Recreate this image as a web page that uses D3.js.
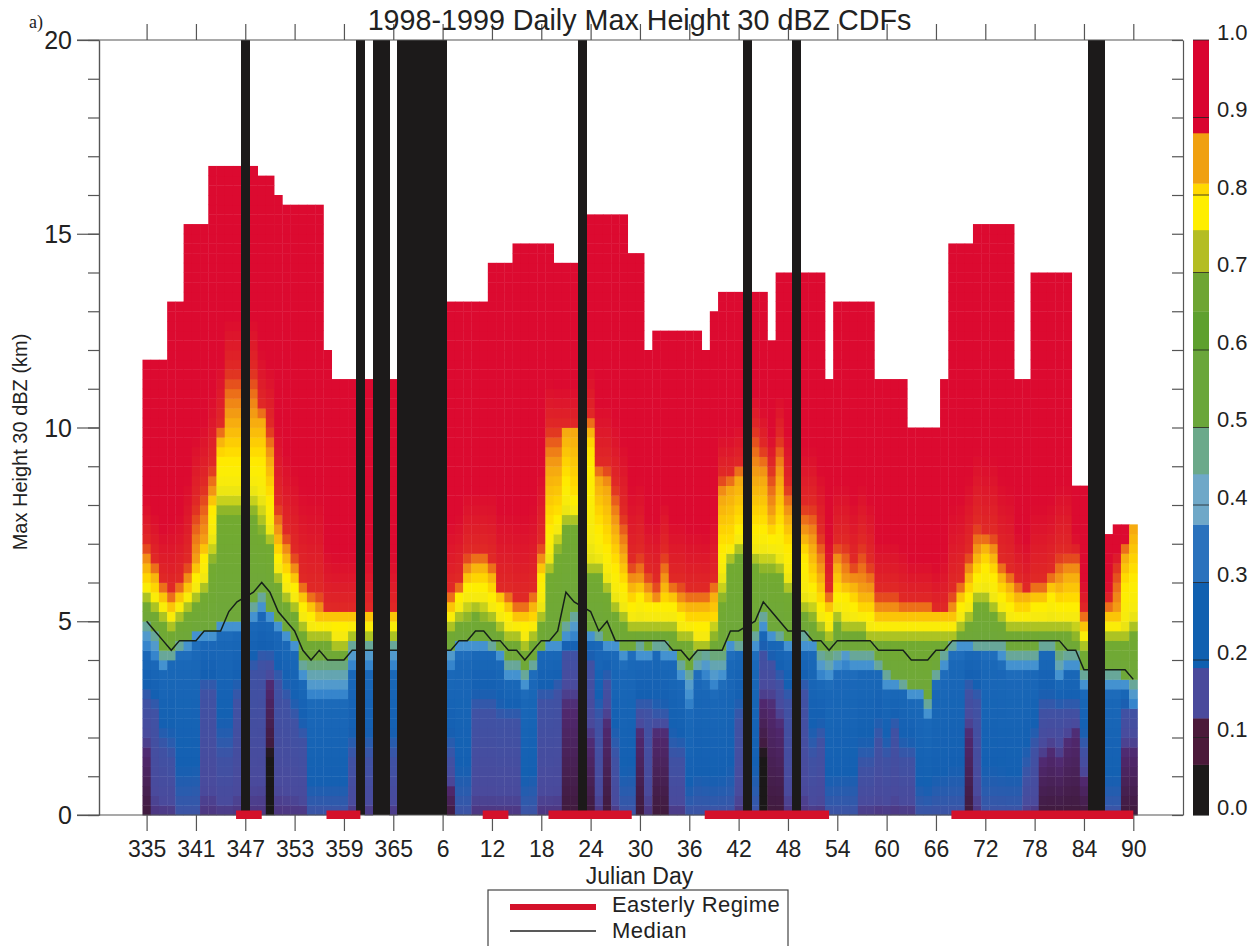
<!DOCTYPE html>
<html>

<head>
    <meta charset="utf-8">
    <style>
        body {
            margin: 0;
            background: white;
        }

        svg {
            display: block;
            font-family: 'Liberation Sans', Arial, sans-serif;
            fill: #222;
        }

        .heat {
            filter: blur(0.5px);
        }

        .axis path,
        .axis line {
            stroke: #555;
            stroke-width: 1.2;
        }
    </style>
</head>

<body>
    <svg width="1257" height="946"></svg>

    <script src="https://d3js.org/d3.v7.min.js"></script>

    <script>
        const _ = null

        // julian days, dec 1 1998 to mar 31 1999
        let days = d3.range(335, 366).concat(d3.range(1, 91))
        let dayLabels = [335, 341, 347, 353, 359, 365, 6, 12, 18, 24, 30, 36, 42, 48, 54, 60, 66, 72, 78, 84, 90]

        // height (km) where the daily CDF reaches each level, read per column
        let topHeight = [
            11.75, 11.75, 11.75, 13.25, 13.25, 15.25, 15.25, 15.25, 16.75, 16.75,
            16.75, 16.75, _, 16.75, 16.5, 16.5, 16, 15.75, 15.75, 15.75,
            15.75, 15.75, 12, 11.25, 11.25, 11.25, _, 11.25, _, _,
            11.25, _, _, _, _, _, _, 13.25, 13.25, 13.25,
            13.25, 13.25, 14.25, 14.25, 14.25, 14.75, 14.75, 14.75, 14.75, 14.75,
            14.25, 14.25, 14.25, _, 15.5, 15.5, 15.5, 15.5, 15.5, 14.5,
            14.5, 12, 12.5, 12.5, 12.5, 12.5, 12.5, 12.5, 12, 13,
            13.5, 13.5, 13.5, _, 13.5, 13.5, 12.25, 14, 14, _,
            14, 14, 14, 11.25, 13.25, 13.25, 13.25, 13.25, 13.25, 11.25,
            11.25, 11.25, 11.25, 10, 10, 10, 10, 11.25, 14.75, 14.75,
            14.75, 15.25, 15.25, 15.25, 15.25, 15.25, 11.25, 11.25, 14, 14,
            14, 14, 14, 8.5, 8.5, _, _, 7.25, 7.5, 7.5,
            7.5]
        let cdf92 = [
            7, 6.5, 6, 5.75, 6, 6.5, 8, 8.5, 9, 10,
            11.5, 11.5, _, 11.5, 10.5, 10, 8, 7.25, 6.75, 6,
            5.75, 5.75, 5.25, 5.25, 5.25, 5.25, _, 5.25, _, _,
            5.25, _, _, _, _, _, _, 5.75, 6, 6.75,
            6.75, 6.75, 6.5, 5.75, 5.75, 5.5, 5.5, 5.75, 7, 10,
            10, 10, 10, _, 10.25, 9, 9, 8.5, 7.75, 6.5,
            6.75, 6.25, 6, 6.75, 6, 6, 5.75, 5.75, 5.75, 6,
            8.75, 8.75, 9, _, 10, 9.5, 9, 9.75, 8.5, _,
            8, 8, 7.25, 5.75, 7, 7, 6.5, 7, 6.5, 5.75,
            5.75, 5.75, 5.5, 5.5, 5.5, 5.5, 5.25, 5.25, 5.75, 6,
            6.75, 7.5, 7.25, 7.25, 6.5, 6.25, 6, 5.75, 6, 6,
            6.25, 6.75, 6.75, 6.75, 5.25, _, _, 5.5, 6.5, 7,
            7.5]
        let cdf85 = [
            6.5, 6.25, 5.75, 5.5, 5.75, 6, 6.5, 7, 8.25, 9.75,
            10.25, 10.25, _, 10.25, 10.25, 9.25, 7.25, 6.75, 6.25, 5.75,
            5.5, 5.25, 5.25, 5.25, 5.25, 5.25, _, 5.25, _, _,
            5.25, _, _, _, _, _, _, 5.5, 5.75, 6.25,
            6.5, 6.5, 6.25, 5.75, 5.5, 5.25, 5.25, 5.5, 6.5, 9,
            9, 10, 10, _, 10, 8.75, 8.5, 7.5, 6.75, 6,
            6, 5.75, 5.5, 6, 5.75, 5.5, 5.5, 5.5, 5.5, 5.75,
            8.25, 8.5, 8.75, _, 8.75, 8.75, 7.75, 8.75, 7.75, _,
            7.25, 7, 6.25, 5.5, 6.5, 6, 6, 5.75, 5.75, 5.25,
            5.25, 5.25, 5.25, 5.25, 5.25, 5.25, 5.25, 5.25, 5.25, 5.75,
            6.25, 6.75, 7, 6.75, 6.25, 6, 5.75, 5.75, 5.75, 5.75,
            6, 6, 6.25, 6.25, 5, _, _, 5.25, 5.25, 6.75,
            7.5]
        let cdf80 = [
            6, 5.75, 5.5, 5.25, 5.5, 5.75, 6.25, 6.75, 8, 9.25,
            9.25, 9.25, _, 9.25, 9.25, 8.25, 6.75, 6.25, 6, 5.5,
            5.25, 5, 5, 5, 5, 5, _, 5, _, _,
            5, _, _, _, _, _, _, 5.25, 5.75, 6,
            6, 6, 5.75, 5.5, 5.25, 5, 5, 5, 6.25, 7.5,
            7.75, 8.75, 8.25, _, 9.5, 7.5, 7, 6.5, 6, 5.5,
            5.75, 5.5, 5.5, 5.5, 5.5, 5.25, 5, 5, 5, 5,
            7, 7, 7.5, _, 7.5, 7.5, 7.25, 7.5, 7, _,
            6.75, 6, 5.5, 5.25, 5.75, 5.75, 5.5, 5.25, 5.25, 5,
            5, 5, 5, 5, 5, 5, 5, 5, 5, 5.5,
            5.75, 6.25, 6.5, 6.25, 5.75, 5.5, 5.25, 5.25, 5.5, 5.5,
            5.75, 5.5, 5.5, 5.5, 4.75, _, _, 5, 5, 6,
            6.25]
        let cdf75 = [
            5.75, 5.5, 5.25, 5, 5.25, 5.5, 5.75, 6, 7, 8.25,
            8.25, 8.25, _, 8.25, 8, 7.25, 6.25, 5.75, 5.5, 5,
            4.75, 4.75, 4.75, 4.5, 4.5, 4.75, _, 4.75, _, _,
            4.75, _, _, _, _, _, _, 5, 5.25, 5.5,
            5.5, 5.5, 5.25, 5, 4.75, 4.75, 4.5, 4.75, 5.25, 6.5,
            7.25, 7.75, 7.75, _, 6.5, 6.5, 6, 5.5, 5.25, 5,
            5, 5, 5, 5, 5, 4.75, 4.75, 4.5, 4.5, 5,
            6, 6.75, 7, _, 6.75, 6.75, 6.75, 6.5, 6, _,
            5.5, 5.5, 5, 4.75, 5.25, 5, 5, 5, 4.75, 4.75,
            4.75, 4.75, 4.75, 4.75, 4.75, 4.75, 4.75, 4.75, 4.75, 5,
            5.25, 5.75, 5.75, 5.5, 5.25, 5, 5, 5, 5, 5,
            5, 5, 5, 5, 4.5, _, _, 4.75, 4.75, 4.75,
            5]
        let cdf70 = [
            5.5, 5.25, 5, 4.75, 5, 5.25, 5.5, 5.75, 6.5, 7.75,
            7.75, 7.75, _, 7.75, 7.25, 7, 6, 5.5, 5.25, 4.75,
            4.5, 4.5, 4.5, 4.25, 4.25, 4.5, _, 4.5, _, _,
            4.5, _, _, _, _, _, _, 4.75, 5, 5,
            5.25, 5, 5, 4.75, 4.5, 4.5, 4.25, 4.5, 5, 6.25,
            6.75, 7.5, 7.5, _, 6.25, 6.25, 5.75, 5.25, 5, 4.75,
            4.75, 4.75, 4.75, 4.75, 4.75, 4.5, 4.5, 4.25, 4.25, 4.5,
            5.5, 6.5, 6.75, _, 6.5, 6.25, 6.25, 6.25, 5.75, _,
            5.25, 5, 4.75, 4.5, 5, 4.75, 4.75, 4.75, 4.5, 4.5,
            4.5, 4.5, 4.5, 4.5, 4.5, 4.5, 4.5, 4.5, 4.5, 4.75,
            5, 5.5, 5.5, 5.25, 5, 4.75, 4.75, 4.75, 4.75, 4.75,
            4.75, 4.75, 4.75, 4.5, 4.25, _, _, 4.5, 4.5, 4.5,
            4.75]
        let cdf45 = [
            5, 4.75, 4.25, 4.25, 4.5, 4.5, 4.75, 4.75, 4.75, 5,
            5, 5, _, 5.5, 5.75, 5.25, 5, 4.75, 4.5, 4,
            4, 4, 4, 4, 4, 4.5, _, 4.5, _, _,
            4.5, _, _, _, _, _, _, 4.25, 4.5, 4.5,
            4.5, 4.5, 4.5, 4.25, 4, 4, 3.75, 4, 4.25, 4.5,
            4.5, 5, 5.25, _, 4.75, 4.75, 4.5, 4.5, 4.25, 4.25,
            4.5, 4.25, 4.5, 4.5, 4.25, 4, 3.75, 4.25, 4.25, 4.25,
            4.25, 4.5, 4.5, _, 4.75, 5.25, 4.75, 4.75, 4.5, _,
            4.75, 4.5, 4.25, 4.25, 4.25, 4.25, 4.25, 4.25, 4.25, 4,
            3.75, 3.5, 3.5, 3.25, 3.25, 3, 3.75, 4.25, 4.5, 4.5,
            4.5, 4.5, 4.5, 4.5, 4.5, 4.25, 4.25, 4.25, 4.25, 4.5,
            4.5, 4.25, 4.25, 4.25, 3.75, _, _, 3.75, 3.75, 3.5,
            3.5]
        let cdf40 = [
            4.75, 4.5, 4, 4, 4.25, 4.5, 4.75, 4.75, 4.75, 5,
            5, 5, _, 5.25, 5.5, 5.25, 5, 4.75, 4.5, 3.75,
            3.5, 3.5, 3.5, 3.5, 3.5, 4.25, _, 4.25, _, _,
            4.25, _, _, _, _, _, _, 4.25, 4.5, 4.5,
            4.5, 4.5, 4.25, 4.25, 3.75, 3.75, 3.5, 3.75, 4.25, 4.5,
            4.5, 4.75, 5, _, 4.75, 4.5, 4.5, 4.5, 4.25, 4.25,
            4.25, 4.25, 4.25, 4.25, 4.25, 3.75, 3.5, 3.75, 4, 3.75,
            3.75, 4.5, 4.25, _, 4.5, 5, 4.75, 4.5, 4.5, _,
            4.5, 4.5, 4, 3.75, 4, 4.25, 4, 4, 4, 3.75,
            3.5, 3.5, 3.25, 3.25, 3.25, 2.75, 3.5, 4, 4.25, 4.5,
            4.5, 4.25, 4.25, 4.25, 4.25, 4, 4, 4, 4, 4.25,
            4.25, 3.75, 4, 4, 3.5, _, _, 3.5, 3.5, 3.5,
            3.25]
        let cdf35 = [
            4.25, 4, 3.75, 4, 4.25, 4.25, 4.5, 4.5, 4.5, 4.75,
            4.75, 4.75, _, 5, 5.25, 5, 4.75, 4.5, 4.25, 3.5,
            3, 3, 3, 3, 3, 3.75, _, 3.75, _, _,
            3.75, _, _, _, _, _, _, 3.75, 4.25, 4.25,
            4.25, 4.25, 4.25, 4, 3.5, 3.5, 3.25, 3.75, 4.25, 4.25,
            4.25, 4.5, 4.5, _, 4.5, 4.5, 4.25, 4.25, 4, 4.25,
            4, 4, 4.25, 4, 4, 3.5, 2.75, 3.75, 3.5, 3.25,
            3.5, 4.25, 4.25, _, 4.25, 4.75, 4.5, 4.5, 4.25, _,
            4.25, 4.25, 3.5, 3.5, 3.75, 3.75, 3.75, 3.75, 3.75, 3.75,
            3.25, 3.25, 3.25, 3, 3, 2.5, 3.5, 3.75, 4.25, 4.25,
            4.25, 4.25, 4.25, 4.25, 4, 3.75, 3.75, 3.75, 3.75, 4.25,
            4.25, 3.5, 3.75, 3.75, 3.25, _, _, 3.25, 3.25, 3.25,
            2.75]
        let cdf15 = [
            3, 2.75, 1.75, 1.5, 0, 0, 0, 3.25, 3.25, 1.5,
            1.5, 3, _, 3.75, 4, 4, 3.5, 3, 2.5, 2,
            0, 0, 0, 0, 0, 1.5, _, 1.5, _, _,
            1.5, _, _, _, _, _, _, 1.5, 0, 0,
            2.75, 2.75, 2.75, 2.5, 2.5, 2.5, 0, 0, 3, 3,
            3.25, 4.25, 4.25, _, 4, 2.5, 3.5, 1.5, 0, 0,
            2.75, 2.75, 2.5, 2.5, 1.5, 1.5, 0, 0, 0, 0,
            0, 0, 2.5, _, 0, 4.25, 4, 3.5, 3, _,
            3.25, 1.5, 2, 0, 0, 0, 0, 1.25, 1.25, 2,
            1.5, 2.25, 1.5, 1.5, 0, 0, 0, 0, 0, 0,
            3.25, 3, 0, 0, 0, 0, 0, 1, 1.75, 2.75,
            2.75, 2.75, 2.75, 2.75, 1.75, _, _, 0, 0, 2.75,
            2.75]
        let cdf10 = [
            1.75, 0, 0, 0, 0, 0, 0, 0, 0, 0,
            0, 0, _, 0, 0, 3.5, 0, 0, 0, 0,
            0, 0, 0, 0, 0, 0, _, 0, _, _,
            0, _, _, _, _, _, _, 0.75, 0, 0,
            0, 0, 0, 0, 0, 0, 0, 0, 0, 0,
            0, 3, 3, _, 2, 0, 2.5, 0, 0, 0,
            2.25, 0, 2.25, 2.25, 0, 0, 0, 0, 0, 0,
            0, 0, 0, _, 0, 3, 3, 2.5, 0, _,
            0, 0, 0, 0, 0, 0, 0, 0, 0, 0,
            0, 0, 0, 0, 0, 0, 0, 0, 0, 0,
            2.25, 0, 0, 0, 0, 0, 0, 0, 0, 1.5,
            1.75, 1.5, 2, 2.25, 1, _, _, 0, 0, 1.75,
            1.75]
        let cdf05 = [
            0, 0, 0, 0, 0, 0, 0, 0, 0, 0,
            0, 0, _, 0, 0, 1.75, 0, 0, 0, 0,
            0, 0, 0, 0, 0, 0, _, 0, _, _,
            0, _, _, _, _, _, _, 0, 0, 0,
            0, 0, 0, 0, 0, 0, 0, 0, 0, 0,
            0, 0, 0, _, 0, 0, 0, 0, 0, 0,
            0, 0, 0, 0, 0, 0, 0, 0, 0, 0,
            0, 0, 0, _, 0, 1.75, 0, 0, 0, _,
            0, 0, 0, 0, 0, 0, 0, 0, 0, 0,
            0, 0, 0, 0, 0, 0, 0, 0, 0, 0,
            0, 0, 0, 0, 0, 0, 0, 0, 0, 0,
            0, 0, 0, 0, 0, _, _, 0, 0, 0,
            0]
        let medianHeight = [
            5, 4.75, 4.5, 4.25, 4.5, 4.5, 4.5, 4.75, 4.75, 4.75,
            5.25, 5.5, _, 5.75, 6, 5.75, 5.25, 5, 4.75, 4.25,
            4, 4.25, 4, 4, 4, 4.25, _, 4.25, _, _,
            4.25, _, _, _, _, _, _, 4.25, 4.5, 4.5,
            4.75, 4.75, 4.5, 4.5, 4.25, 4.25, 4, 4.25, 4.5, 4.5,
            4.75, 5.75, 5.5, _, 5.25, 4.75, 5, 4.5, 4.5, 4.5,
            4.5, 4.5, 4.5, 4.5, 4.25, 4.25, 4, 4.25, 4.25, 4.25,
            4.25, 4.75, 4.75, _, 5, 5.5, 5.25, 5, 4.75, _,
            4.75, 4.5, 4.5, 4.25, 4.5, 4.5, 4.5, 4.5, 4.5, 4.25,
            4.25, 4.25, 4.25, 4, 4, 4, 4.25, 4.25, 4.5, 4.5,
            4.5, 4.5, 4.5, 4.5, 4.5, 4.5, 4.5, 4.5, 4.5, 4.5,
            4.5, 4.5, 4.25, 4.25, 3.75, _, _, 3.75, 3.75, 3.75,
            3.5]

        let cdfLevels = [0.05, 0.10, 0.15, 0.35, 0.40, 0.45, 0.70, 0.75, 0.80, 0.85, 0.92, 1]
        let cdfColumns = [cdf05, cdf10, cdf15, cdf35, cdf40, cdf45, cdf70, cdf75, cdf80, cdf85, cdf92, topHeight]

        // column positions (index into days) of the two other series
        let missingColumns = [12, 26, 28, 29, 31, 32, 33, 34, 35, 36, 53, 73, 79, 115, 116]
        let regimeStart = [11, 22, 41, 49, 68, 98]
        let regimeEnd = [14, 26, 44, 59, 83, 120]

        // colours of the cells, blended between these CDF values
        let cellStops = [0, 0.045, 0.05, 0.095, 0.11, 0.15, 0.18, 0.21, 0.34, 0.37, 0.40, 0.43, 0.46, 0.70, 0.73, 0.76, 0.79, 0.81, 0.85, 0.88, 0.91, 0.94, 1]
        let cellColors = ['#1a1818', '#1a1818', '#401a3c', '#50286e', '#4a4a9c', '#3f52a4', '#2a5cae', '#1460b2', '#1a68b8', '#3f8fd2', '#5fa2c8', '#6aa890', '#6fa83a', '#72aa30', '#b8c820', '#f5ea10', '#ffee00', '#ffd800', '#f5a512', '#ee7a18', '#e23a20', '#dc0a30', '#dc0a30']

        // colour bar blocks
        let barEdges = [0, 0.065, 0.125, 0.19, 0.30, 0.375, 0.44, 0.50, 0.60, 0.65, 0.70, 0.755, 0.80, 0.815, 0.88, 1]
        let barColors = ['#1c1a1a', '#4b1a3a', '#4a4a9c', '#1060b0', '#2a72bd', '#6fa8c8', '#6ba98a', '#6aa63a', '#5ea02e', '#6ea532', '#b4bd22', '#ffee00', '#ffd800', '#f0a010', '#d9042f']
        let barLabels = ['0.0', '0.1', '0.2', '0.3', '0.4', '0.5', '0.6', '0.7', '0.8', '0.9', '1.0']

        let svg = d3.select("svg")

        let x = d3.scaleLinear().domain([0, days.length - 1]).range([146.6, 1133.3])
        let y = d3.scaleLinear().domain([0, 20]).range([815, 40])
        let barY = d3.scaleLinear().domain([0, 1]).range([815, 40])
        let cellColor = d3.scaleLinear().domain(cellStops).range(cellColors)
        let halfDay = (x(1) - x(0)) / 2

        // height -> CDF in one column, straight lines between the read levels
        function cdfAt(col, h) {
            let prevLevel = 0
            let prevH = 0
            for (let k = 0; k < cdfLevels.length; k++) {
                let H = cdfColumns[k][col]
                if (h < H) {
                    return prevLevel + (cdfLevels[k] - prevLevel) * (h - prevH) / (H - prevH)
                }
                prevLevel = cdfLevels[k]
                prevH = H
            }
            return 1
        }

        let rows = d3.range(0, 20, 0.25)
        let cells = []
        days.forEach((d, col) => {
            if (topHeight[col] === null) return
            rows.filter(h => h + 0.125 < topHeight[col]).forEach(h => {
                cells.push({ col: col, h: h, value: cdfAt(col, h + 0.125) })
            })
        })

        let heat = svg.append("g").attr("class", "heat")

        heat.selectAll("rect")
            .data(cells)
            .join("rect")
            .attr("x", d => x(d.col) - halfDay)
            .attr("y", d => y(d.h + 0.25))
            .attr("width", halfDay * 2 + 0.4)
            .attr("height", y(0) - y(0.25) + 0.4)
            .attr("fill", d => cellColor(d.value))

        // median goes under the no-data bars
        let medianLine = d3.line()
            .x(d => x(d.col))
            .y(d => y(d.h))

        svg.append("path")
            .datum(medianHeight.map((h, col) => ({ col: col, h: h })).filter(d => d.h !== null))
            .attr("d", medianLine)
            .attr("fill", "none")
            .attr("stroke", "#16201a")
            .attr("stroke-width", 1.5)

        svg.selectAll(".missing")
            .data(missingColumns)
            .join("rect")
            .attr("class", "missing")
            .attr("x", d => x(d) - halfDay)
            .attr("y", y(20))
            .attr("width", halfDay * 2 + 0.6)
            .attr("height", y(0) - y(20))
            .attr("fill", "#1c1a1a")
            .attr("shape-rendering", "crispEdges")

        // axes
        let leftMajor = d3.axisLeft(y).tickValues([0, 5, 10, 15, 20]).tickSize(22).tickSizeOuter(0).tickFormat(d => d)
        let leftMinor = d3.axisLeft(y).tickValues(d3.range(0, 21)).tickSize(11).tickSizeOuter(0).tickFormat("")
        let rightTicks = d3.axisLeft(y).tickValues(d3.range(0, 21)).tickSize(11).tickSizeOuter(0).tickFormat("")

        let labelIndex = dayLabels.map((d, i) => i * 6)
        let bottomAxis = d3.axisBottom(x).tickValues(labelIndex).tickSize(16).tickSizeOuter(0).tickFormat((d, i) => dayLabels[i])
        let topAxis = d3.axisTop(x).tickValues(labelIndex).tickSize(16).tickSizeOuter(0).tickFormat("")

        let gLeft = svg.append("g").attr("class", "axis").attr("transform", "translate(99,0)").call(leftMinor)
        let gLeftMajor = svg.append("g").attr("class", "axis").attr("transform", "translate(99,0)").call(leftMajor)
        gLeftMajor.selectAll("text")
            .attr("x", -27)
            .attr("dy", "0.34em")
            .style("font-size", "25px")
            .style("font-family", "'Liberation Sans'")
            .style("fill", "#222")

        svg.append("g").attr("class", "axis").attr("transform", "translate(1183,0)").call(rightTicks)

        let gBottom = svg.append("g").attr("class", "axis").attr("transform", "translate(0,815)").call(bottomAxis)
        gBottom.selectAll("text")
            .attr("y", 26)
            .style("font-size", "23px")
            .style("font-family", "'Liberation Sans'")
            .style("fill", "#222")
        gBottom.selectAll(".domain").remove()

        let gTop = svg.append("g").attr("class", "axis").attr("transform", "translate(0,40)").call(topAxis)
        gTop.selectAll(".domain").remove()

        // frame lines run past the left axis out to the long ticks
        svg.selectAll(".frame")
            .data([y(20), y(0)])
            .join("line")
            .attr("class", "frame")
            .attr("x1", 77)
            .attr("x2", 1183)
            .attr("y1", d => d)
            .attr("y2", d => d)
            .attr("stroke", "#555")
            .attr("stroke-width", 1.2)

        // easterly regime bars sit on the bottom axis
        svg.selectAll(".regime")
            .data(regimeStart)
            .join("rect")
            .attr("class", "regime")
            .attr("x", d => x(d) - 1)
            .attr("y", 810.5)
            .attr("width", (d, i) => x(regimeEnd[i]) - x(d) + 1)
            .attr("height", 8.5)
            .attr("fill", "#d4112a")

        // colour bar
        svg.selectAll(".bar-block")
            .data(barColors)
            .join("rect")
            .attr("class", "bar-block")
            .attr("x", 1193)
            .attr("y", (d, i) => barY(barEdges[i + 1]))
            .attr("width", 16)
            .attr("height", (d, i) => barY(barEdges[i]) - barY(barEdges[i + 1]) + 0.3)
            .attr("fill", d => d)

        svg.selectAll(".bar-tick")
            .data(barLabels)
            .join("line")
            .attr("class", "bar-tick")
            .attr("x1", 1193)
            .attr("x2", 1209)
            .attr("y1", d => barY(+d))
            .attr("y2", d => barY(+d))
            .attr("stroke", "#222")
            .attr("stroke-width", 0.8)

        svg.selectAll(".bar-label")
            .data(barLabels)
            .join("text")
            .attr("class", "bar-label")
            .attr("x", 1217)
            .attr("y", d => barY(+d) - 8)
            .attr("dy", "0.35em")
            .style("font-size", "22px")
            .text(d => d)

        // titles
        svg.append("text")
            .attr("x", 639.5)
            .attr("y", 30)
            .attr("text-anchor", "middle")
            .style("font-size", "28.7px")
            .text("1998-1999 Daily Max Height 30 dBZ CDFs")

        svg.append("text")
            .attr("x", 29)
            .attr("y", 28)
            .style("font-family", "'Liberation Serif'")
            .style("font-size", "18px")
            .text("a)")

        svg.append("text")
            .attr("transform", "translate(27,442) rotate(-90)")
            .attr("text-anchor", "middle")
            .style("font-size", "20px")
            .text("Max Height 30 dBZ (km)")

        svg.append("text")
            .attr("x", 639.5)
            .attr("y", 884)
            .attr("text-anchor", "middle")
            .style("font-size", "23px")
            .text("Julian Day")

        // legend, cut off by the bottom of the page like the scan
        let legend = svg.append("g")

        legend.append("rect")
            .attr("x", 488)
            .attr("y", 890)
            .attr("width", 300)
            .attr("height", 80)
            .attr("fill", "none")
            .attr("stroke", "#444")
            .attr("stroke-width", 1.2)

        legend.append("line")
            .attr("x1", 510)
            .attr("x2", 596)
            .attr("y1", 907)
            .attr("y2", 907)
            .attr("stroke", "#d4112a")
            .attr("stroke-width", 6)

        legend.append("line")
            .attr("x1", 510)
            .attr("x2", 596)
            .attr("y1", 931)
            .attr("y2", 931)
            .attr("stroke", "#222")
            .attr("stroke-width", 1.3)

        legend.selectAll("text")
            .data(["Easterly Regime", "Median"])
            .join("text")
            .attr("x", 612)
            .attr("y", (d, i) => 912 + i * 26)
            .style("font-size", "22px")
            .style("letter-spacing", "0.45px")
            .text(d => d)
    </script>
</body>

</html>
